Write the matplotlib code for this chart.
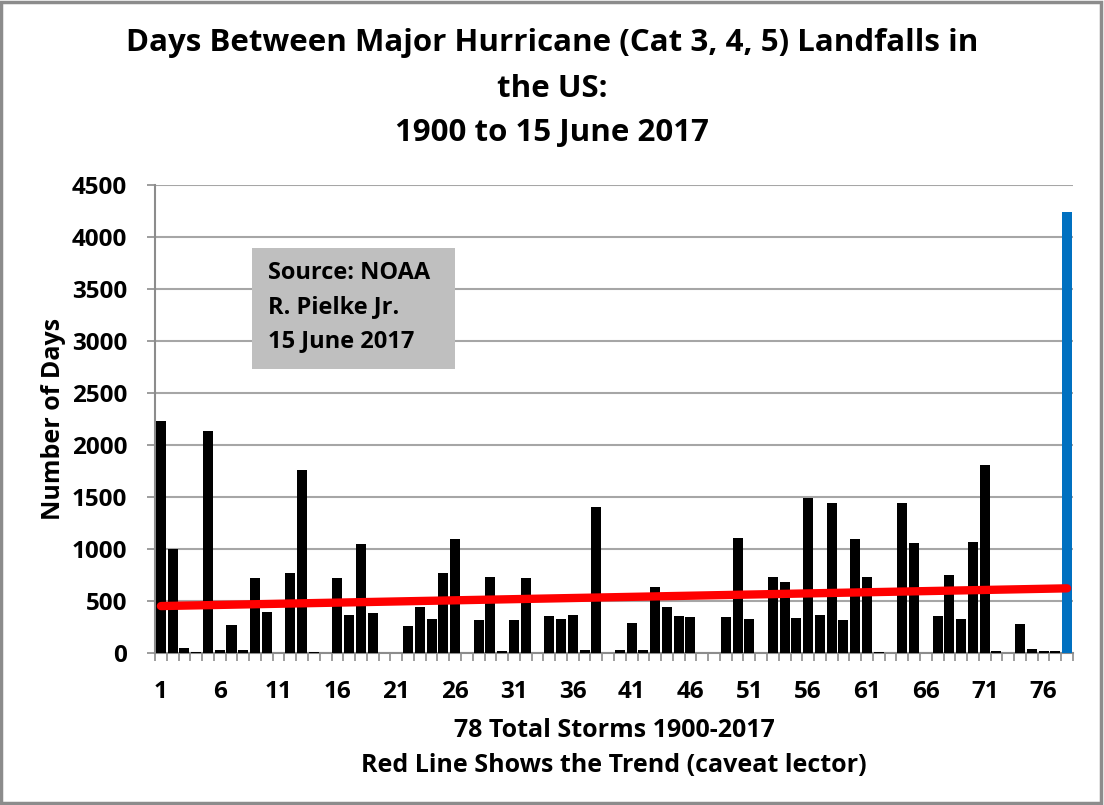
import matplotlib.pyplot as plt
from matplotlib.patches import Rectangle
import numpy as np

# Days between consecutive major hurricane landfalls (storm 78 = current streak)
storm_days = [
    2230, 1007, 55, 15, 2135, 35, 276, 35, 721, 394,
    0, 769, 1760, 12, 0, 721, 372, 1048, 385, 0,
    0, 266, 442, 327, 777, 1096, 0, 323, 737, 25,
    323, 727, 0, 362, 333, 371, 35, 1410, 0, 35,
    294, 35, 640, 448, 362, 346, 0, 0, 352, 1111,
    332, 0, 734, 686, 340, 1493, 368, 1449, 320, 1099,
    734, 10, 0, 1449, 1061, 0, 359, 753, 330, 1070,
    1814, 20, 0, 282, 40, 22, 22, 4245,
]
storm_num = np.arange(1, len(storm_days) + 1)
tick_labels = [str(n) for n in range(1, 77, 5)]
y_ticks = list(range(0, 4501, 500))

title_lines = [
    "Days Between Major Hurricane (Cat 3, 4, 5) Landfalls in",
    "the US:",
    "1900 to 15 June 2017",
]
source_lines = ["Source: NOAA", "R. Pielke Jr.", "15 June 2017"]

plt.rcParams["font.family"] = ["Open Sans", "DejaVu Sans"]
plt.rcParams["font.weight"] = "bold"
plt.rcParams["xtick.major.pad"] = 19
plt.rcParams["xtick.major.size"] = 0

fig = plt.figure(figsize=(11.04, 8.05), dpi=100)
ax = fig.add_axes([0.1404, 0.1882, 0.8315, 0.582])

colors = ["black"] * (len(storm_days) - 1) + ["#0070C0"]
ax.bar(storm_num, storm_days, width=0.85, color=colors, zorder=3)

# linear trend over all storms
slope, intercept = np.polyfit(storm_num, storm_days, 1)
trend_x = np.array([storm_num[0], storm_num[-1]])
ax.plot(trend_x, slope * trend_x + intercept, color="#FF0000", lw=6,
        solid_capstyle="round", zorder=4)

ax.set_xlim(0.5, len(storm_days) + 0.5)
ax.set_ylim(0, 4500)
ax.set_yticks(y_ticks)
ax.set_yticklabels([str(v) for v in y_ticks], fontsize=17.5, fontweight="bold")
ax.set_xticks(range(1, 77, 5))
ax.set_xticklabels(tick_labels, fontsize=17.5, fontweight="bold")
ax.set_xticks(np.arange(0.5, len(storm_days) + 1, 1), minor=True)
ax.tick_params(axis="x", which="minor", length=6, width=1.2, color="#8c8c8c")
ax.tick_params(axis="y", length=6, width=1.2, color="#8c8c8c", pad=14)

ax.grid(axis="y", color="#a6a6a6", lw=1.5, zorder=0)
for side in ["top", "right"]:
    ax.spines[side].set_visible(False)
for side in ["left", "bottom"]:
    ax.spines[side].set_color("#8c8c8c")
    ax.spines[side].set_linewidth(1.5)

ax.set_ylabel("Number of Days", fontsize=18, fontweight="bold", labelpad=4)
ax.set_xlabel("78 Total Storms 1900-2017\nRed Line Shows the Trend (caveat lector)",
              fontsize=18, fontweight="bold", labelpad=10, linespacing=1.55)

# title
for line, y in zip(title_lines, [0.946, 0.890, 0.835]):
    fig.text(0.5, y, line, ha="center", va="center", fontsize=22.5, fontweight="bold")

# source box
fig.patches.append(Rectangle((0.2283, 0.5416), 0.1839, 0.1503, transform=fig.transFigure,
                             facecolor="#bfbfbf", edgecolor="none", zorder=5))
for line, y in zip(source_lines, [0.6609, 0.6186, 0.5764]):
    fig.text(0.2428, y, line, ha="left", va="center", fontsize=17, fontweight="bold",
             zorder=6)

# outer frame
fig.patches.append(Rectangle((0.001, 0.002), 0.996, 0.996, transform=fig.transFigure,
                             facecolor="none", edgecolor="#8c8c8c", lw=2.5))

fig.savefig("out.png", dpi=100)
